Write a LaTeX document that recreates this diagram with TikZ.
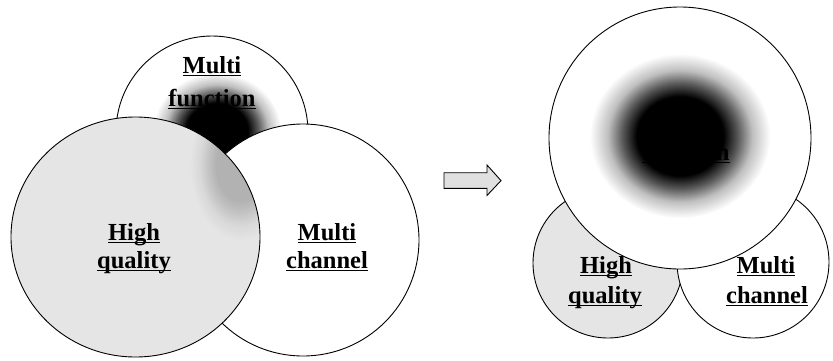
\documentclass[tikz,border=0pt]{standalone}
\usepackage{fontspec}
\setmainfont{Liberation Serif}
\usetikzlibrary{fadings}
\pgfdeclareradialshading{blobshade}{\pgfpoint{0bp}{0bp}}{color(0bp)=(pgftransparent!0); color(12bp)=(pgftransparent!0); color(16bp)=(pgftransparent!35); color(20bp)=(pgftransparent!75); color(25bp)=(pgftransparent!100); color(50bp)=(pgftransparent!100)}
\pgfdeclarefading{blobfade}{\pgfuseshading{blobshade}}
\newcommand{\ulword}[1]{\setbox0=\hbox{#1}\rlap{\rule[-3pt]{\wd0}{1.5pt}}\box0}
\tikzset{
  ring/.style={line width=0.9pt, draw=black},
  lightfill/.style={fill=black!10},
  whitefill/.style={fill=white},
  lbl/.style={font=\fontsize{24.5}{29}\selectfont\bfseries, inner sep=0pt, anchor=base},
  blob/.style={fill=black, path fading=blobfade},
  blockarrow/.style={line width=0.9pt, draw=black, fill=black!12, line join=miter}
}
\begin{document}
\begin{tikzpicture}[x=1pt,y=-1pt]
\useasboundingbox (0,0) rectangle (833,360);
% ---------------- left group ----------------
\path[ring, whitefill] (212,132) circle [radius=96];
\node[lbl] (mf1) at (212,73) {\ulword{Multi}};
\node[lbl] (mf2) at (212,106) {\ulword{function}};
\begin{scope}
  \clip (212,132) circle [radius=96];
  \fill[blob] (217,131) ellipse [x radius=64, y radius=58];
\end{scope}
\path[ring, whitefill] (303,240) circle [radius=116];
\path[lightfill] (135.5,237) ellipse [x radius=124.5, y radius=120];
\begin{scope}
  \clip (135.5,237) ellipse [x radius=124.5, y radius=120];
  \fill[blob, opacity=0.22] (240,165) ellipse [x radius=50, y radius=75];
\end{scope}
\draw[ring] (135.5,237) ellipse [x radius=124.5, y radius=120];
\node[lbl] (hq1) at (134,240) {\ulword{High}};
\node[lbl] (hq2) at (134,268) {\ulword{quality}};
\node[lbl] (mc1) at (327,240) {\ulword{Multi}};
\node[lbl] (mc2) at (327,268) {\ulword{channel}};
% ---------------- arrow ----------------
\draw[blockarrow] (444,172.7) -- (487,172.7) -- (487,165) -- (501,180.6) -- (487,195.5) -- (487,188.3) -- (444,188.3) -- cycle;
% ---------------- right group ----------------
\path[ring, lightfill] (608,263) circle [radius=75];
\path[ring, whitefill] (753,262) circle [radius=76];
\path[ring, whitefill] (680,138) circle [radius=131];
\node[lbl] (bf1) at (686,131) {\ulword{Multi}};
\node[lbl] (bf2) at (686,160) {\ulword{function}};
\fill[blob] (680,136) ellipse [x radius=90, y radius=82];
\node[lbl] (rhq1) at (606,273) {\ulword{High}};
\node[lbl] (rhq2) at (605,303) {\ulword{quality}};
\node[lbl] (rmc1) at (766,273) {\ulword{Multi}};
\node[lbl] (rmc2) at (767,303) {\ulword{channel}};
\end{tikzpicture}
\end{document}
